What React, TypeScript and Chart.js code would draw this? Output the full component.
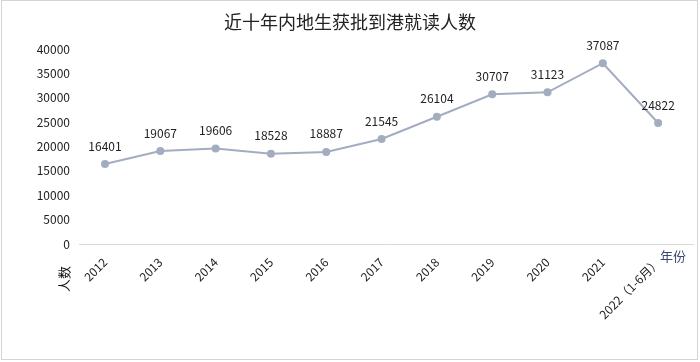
import React, { useEffect, useRef } from "react";
import { Chart, registerables } from "chart.js";

Chart.register(...registerables);

const TITLE = "近十年内地生获批到港就读人数";
const categories = ["2012", "2013", "2014", "2015", "2016", "2017", "2018", "2019", "2020", "2021", "2022（1-6月）"];
const values = [16401, 19067, 19606, 18528, 18887, 21545, 26104, 30707, 31123, 37087, 24822];
const yTicks = [0, 5000, 10000, 15000, 20000, 25000, 30000, 35000, 40000];
const Y_TITLE = "人数";
const X_TITLE = "年份";

const FONT = '"Noto Sans CJK SC", "Noto Sans", sans-serif';

export default function App() {
  const ref = useRef<HTMLCanvasElement | null>(null);
  useEffect(() => {
    document.body.style.margin = "0";
    const canvas = ref.current!;
    const decor = {
      id: "decor",
      afterDraw(chart: any) {
        const ctx = chart.ctx;
        const xs = chart.scales.x;
        const ys = chart.scales.y;
        ctx.save();
        // border
        ctx.strokeStyle = "#d4d4d4";
        ctx.lineWidth = 1;
        ctx.strokeRect(1.5, 0.5, 696, 359);
        // title
        ctx.fillStyle = "#222";
        ctx.font = `18px ${FONT}`;
        ctx.textAlign = "center";
        ctx.textBaseline = "middle";
        ctx.fillText(TITLE, 350, 22);
        // data labels
        ctx.font = `12px ${FONT}`;
        ctx.fillStyle = "#222";
        values.forEach((v, i) => {
          ctx.fillText(String(v), xs.getPixelForValue(i), ys.getPixelForValue(v) - 18);
        });
        // x title
        ctx.font = `13px ${FONT}`;
        ctx.fillStyle = "#3a4a6b";
        ctx.textAlign = "left";
        ctx.fillText(X_TITLE, 660, 256);
        // y title
        ctx.fillStyle = "#111";
        ctx.translate(64, 279);
        ctx.rotate(-Math.PI / 2);
        ctx.textAlign = "center";
        ctx.fillText(Y_TITLE, 0, 0);
        ctx.restore();
      },
    };
    const chart = new Chart(canvas, {
      type: "line",
      data: {
        datasets: [
          {
            data: values.map((v, i) => ({ x: i, y: v })),
            borderColor: "#a3adc0",
            backgroundColor: "#a3adc0",
            borderWidth: 2,
            pointRadius: 4,
            pointHoverRadius: 4,
            pointBackgroundColor: "#a3adc0",
            pointBorderWidth: 0,
            tension: 0,
          },
        ],
      },
      options: {
        responsive: false,
        animation: false,
        layout: { padding: { top: 49, right: 7, left: 0, bottom: 0 } },
        plugins: { legend: { display: false }, tooltip: { enabled: false }, title: { display: false } },
        scales: {
          x: {
            type: "linear",
            min: -0.47,
            max: 10.63,
            afterBuildTicks: (scale: any) => {
              scale.ticks = categories.map((_, i) => ({ value: i }));
            },
            afterFit: (scale: any) => {
              scale.height = 118;
            },
            grid: { display: false, drawTicks: false },
            border: { display: true, color: "#d9d9d9", width: 1 },
            ticks: {
              autoSkip: false,
              minRotation: 45,
              maxRotation: 45,
              padding: 11,
              color: "#222",
              font: { family: FONT, size: 12 },
              callback: (v: any) => categories[v] ?? "",
            },
          },
          y: {
            min: 0,
            max: 40000,
            afterBuildTicks: (scale: any) => {
              scale.ticks = yTicks.map((v) => ({ value: v }));
            },
            afterFit: (scale: any) => {
              scale.width = 79;
            },
            grid: { display: false, drawTicks: false },
            border: { display: false },
            ticks: {
              padding: 9,
              color: "#222",
              font: { family: FONT, size: 12 },
              callback: (v: any) => String(v),
            },
          },
        },
      },
      plugins: [decor],
    } as any);
    return () => chart.destroy();
  }, []);
  return <canvas ref={ref} width={700} height={362} style={{ display: "block" }} />;
}
